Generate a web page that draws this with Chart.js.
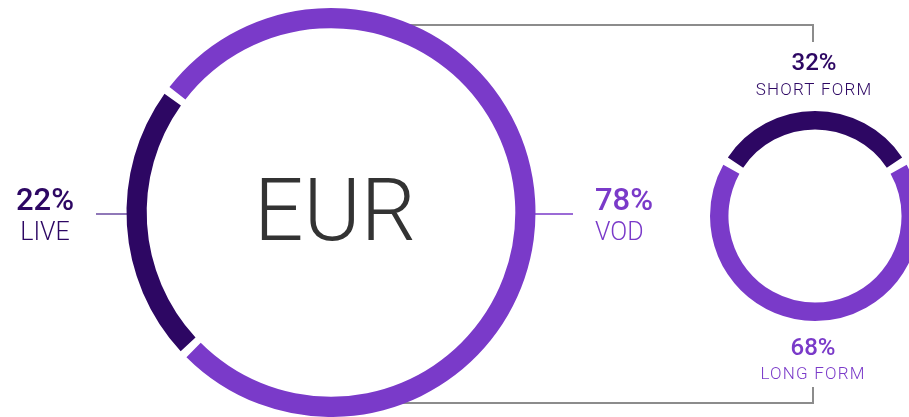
<!DOCTYPE html>
<html>
<head>
<meta charset="utf-8">
<script src="https://cdn.jsdelivr.net/npm/chart.js@4"></script>
<style>
  html, body { margin: 0; padding: 0; background: #fff; overflow: hidden; width: 909px; height: 417px; }
  #mainChart { position: absolute; left: 0; top: 0; }
  #formChart { position: absolute; left: 700px; top: 100px; }
</style>
</head>
<body>
<canvas id="mainChart" width="909" height="417"></canvas>
<canvas id="formChart" width="230" height="230"></canvas>
<script>
const centerLabel = "EUR";
const typeLabels = ["VOD", "LIVE"];
const typeValues = [78, 22];
const formLabels = ["SHORT FORM", "LONG FORM"];
const formValues = [32, 68];

const DARK = "#2d0763";
const LIGHT = "#7a3ac9";
const FONT = "Roboto, 'Noto Sans', sans-serif";

function drawLabel(ctx, pct, name, x, y, align, color, pctSize, nameSize, gap, spacing) {
  ctx.save();
  ctx.fillStyle = color;
  ctx.textAlign = align;
  ctx.textBaseline = "alphabetic";
  ctx.font = "500 " + pctSize + "px " + FONT;
  ctx.fillText(pct + "%", x, y);
  ctx.font = "300 " + nameSize + "px " + FONT;
  ctx.letterSpacing = spacing;
  ctx.fillText(name, x, y + gap);
  ctx.restore();
}

// lines go under the rings, text on top
const overlay = {
  id: "overlay",
  beforeDatasetsDraw(chart) {
    const ctx = chart.ctx;
    ctx.save();
    // grey bracket joining VOD to the form breakdown
    ctx.strokeStyle = "#8c8c8c";
    ctx.lineWidth = 2;
    ctx.beginPath();
    ctx.moveTo(360, 25);
    ctx.lineTo(813, 25);
    ctx.lineTo(813, 42);
    ctx.moveTo(360, 403);
    ctx.lineTo(813, 403);
    ctx.lineTo(813, 387);
    ctx.stroke();
    // short leader lines
    ctx.lineWidth = 1.5;
    ctx.strokeStyle = "#6b4ba0";
    ctx.beginPath();
    ctx.moveTo(96, 214);
    ctx.lineTo(140, 214);
    ctx.stroke();
    ctx.strokeStyle = LIGHT;
    ctx.beginPath();
    ctx.moveTo(525, 214);
    ctx.lineTo(573, 214);
    ctx.stroke();
    ctx.restore();
  },
  afterDatasetsDraw(chart) {
    const ctx = chart.ctx;
    ctx.save();
    ctx.fillStyle = "#333";
    ctx.textAlign = "center";
    ctx.font = "300 87px " + FONT;
    ctx.fillText(centerLabel, 335, 240);
    ctx.restore();

    drawLabel(ctx, typeValues[1], typeLabels[1], 45, 210, "center", DARK, 31, 25, 30, "0px");
    drawLabel(ctx, typeValues[0], typeLabels[0], 595, 210, "left", LIGHT, 31, 25, 30, "0px");
    drawLabel(ctx, formValues[0], formLabels[0], 814, 70, "center", DARK, 24, 17, 25, "1.2px");
    drawLabel(ctx, formValues[1], formLabels[1], 813, 355, "center", LIGHT, 24, 17, 24, "1.2px");
  }
};

const commonOptions = {
  responsive: false,
  animation: false,
  plugins: {
    legend: { display: false },
    tooltip: { enabled: false },
  },
};

new Chart(document.getElementById("mainChart").getContext("2d"), {
  type: "doughnut",
  data: {
    labels: typeLabels,
    datasets: [
      {
        data: typeValues,
        backgroundColor: [LIGHT, DARK],
        borderWidth: 0,
        spacing: 5,
      },
    ],
  },
  options: {
    ...commonOptions,
    cutout: "90%",
    rotation: -54,
    layout: { padding: { left: 126, right: 373, top: 8, bottom: 0 } },
  },
  plugins: [overlay],
});

new Chart(document.getElementById("formChart").getContext("2d"), {
  type: "doughnut",
  data: {
    labels: formLabels,
    datasets: [
      {
        data: formValues,
        backgroundColor: [DARK, LIGHT],
        borderWidth: 0,
        spacing: 5,
      },
    ],
  },
  options: {
    ...commonOptions,
    cutout: "82%",
    rotation: -57.6,
    layout: { padding: { left: 10, right: 10, top: 11, bottom: 9 } },
  },
});
</script>
</body>
</html>
